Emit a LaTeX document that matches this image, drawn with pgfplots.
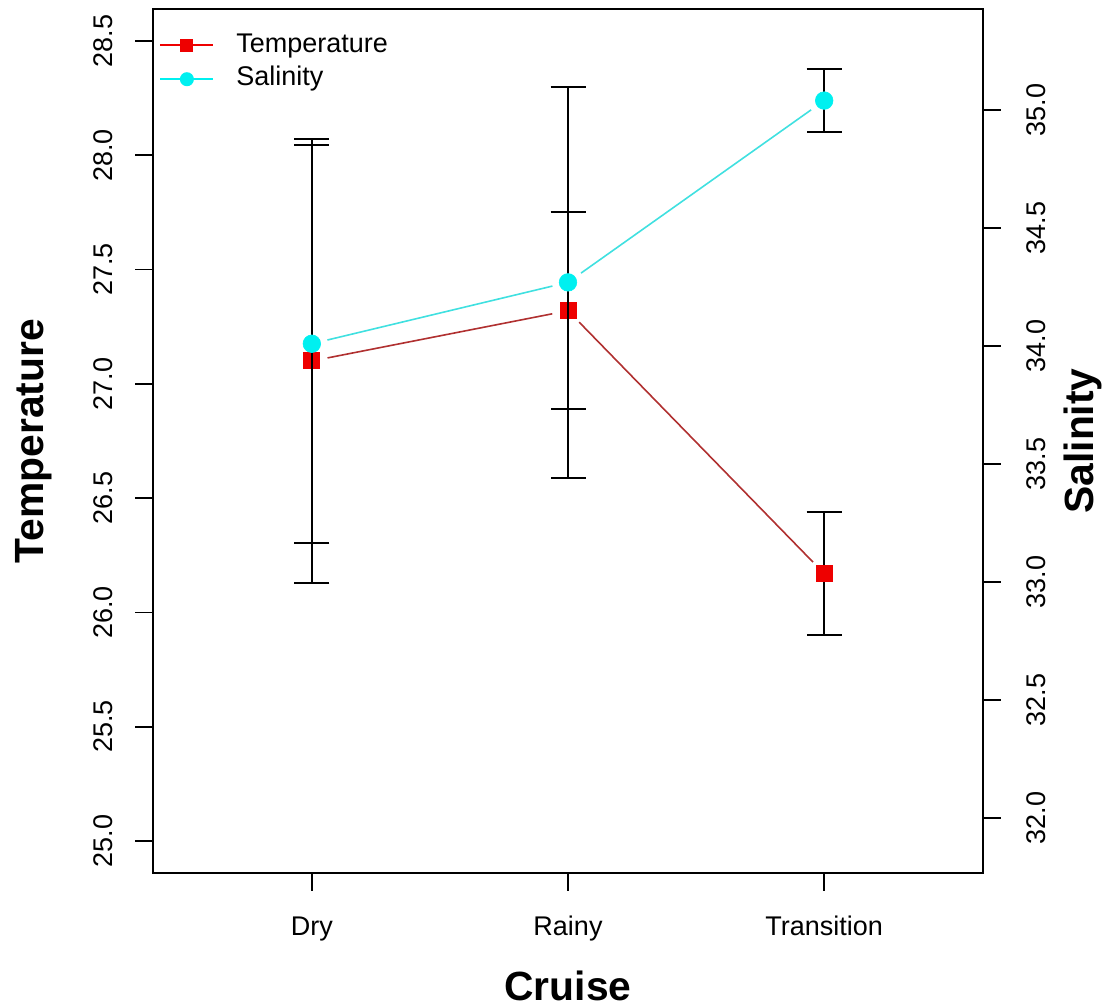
\documentclass[border=0pt]{standalone}
\usepackage{fontspec}
\setmainfont{Liberation Sans}
\usepackage{pgfplots}
\pgfplotsset{compat=1.18}
\definecolor{tline}{RGB}{176,48,48}
\definecolor{tmark}{RGB}{238,0,0}
\definecolor{sline}{RGB}{64,224,224}
\definecolor{smark}{RGB}{0,240,240}
\newcommand{\labfont}{\fontsize{20.4bp}{24bp}\selectfont\bfseries}
\pgfplotsset{
  common/.style={
    at={(0,0)}, anchor=south west,
    scale only axis, width=415bp, height=432bp,
    xmin=0.38, xmax=3.62,
    tick align=outside, major tick length=8.75bp,
    tick style={black, line width=0.9bp},
    axis line style={line width=1bp},
    ticklabel style={font=\fontsize{13.5bp}{16bp}\selectfont},
  },
  ebars/.style={forget plot, draw=none, mark=none,
    error bars/.cd, y dir=both, y explicit,
    error bar style={draw=black, solid, line width=1bp},
    error mark options={draw=black, solid, rotate=90, mark size=8.75bp, line width=1bp}},
}
\begin{document}
\begin{tikzpicture}
\useasboundingbox (-76.5bp,-67.5bp) rectangle (478bp,436.5bp);
% ---------- Temperature (left axis) ----------
\begin{axis}[common,
  ymin=24.86, ymax=28.64,
  xtick={1,2,3}, xticklabels={Dry,Rainy,Transition},
  ytick={25,25.5,26,26.5,27,27.5,28,28.5},
  yticklabels={25.0,25.5,26.0,26.5,27.0,27.5,28.0,28.5},
  xtick pos=bottom, ytick pos=left,
  yticklabel style={inner sep=0pt, xshift=-11.25bp, rotate=90, anchor=base},
  xticklabel style={inner sep=0pt, yshift=-22.25bp, anchor=base},
  xlabel={Cruise}, ylabel={Temperature},
  every axis x label/.style={at={(axis description cs:0.5,-0.14699)}, anchor=base, font=\labfont},
  every axis y label/.style={at={(axis description cs:-0.13133,0.5)}, rotate=90, anchor=base, font=\labfont},
  legend image code/.code={\draw[mark repeat=2,mark phase=2] plot coordinates {(0bp,0bp) (13.25bp,0bp) (26.5bp,0bp)};},
  legend style={at={(axis description cs:0.00723,0.973)}, anchor=north west, draw=none, fill=none,
    inner sep=0pt, row sep=4.2bp,
    font=\fontsize{13.5bp}{16bp}\selectfont,
    nodes={inner sep=0pt, text height=9.7bp, text depth=3bp},
    /tikz/every odd column/.style={column sep=11bp}},
  legend cell align=left,
]
\addlegendimage{draw=tmark, line width=1bp, mark=square*, mark size=2.75bp, mark options={solid, fill=tmark, draw=tmark}}
\addlegendentry{Temperature}
\addlegendimage{draw=smark, line width=1bp, mark=*, mark size=3bp, mark options={solid, fill=smark, draw=smark}}
\addlegendentry{Salinity}
% connecting segments (with gaps, as in R type="b")
\addplot[forget plot, tline, line width=0.8bp, shorten <=8bp, shorten >=8bp] coordinates {(1,27.10) (2,27.32)};
\addplot[forget plot, tline, line width=0.8bp, shorten <=8bp, shorten >=8bp] coordinates {(2,27.32) (3,26.17)};
% points
\addplot[forget plot, only marks, mark=square*, mark size=4bp, mark options={fill=tmark, draw=tmark, line width=0.5bp}] coordinates {(1,27.10) (2,27.32) (3,26.17)};
% error bars
\addplot[ebars] coordinates {(1,27.10) +- (0,0.973) (2,27.32) +- (0,0.431) (3,26.17) +- (0,0.269)};
\end{axis}
% ---------- Salinity (right axis) ----------
\begin{axis}[common,
  ymin=31.768, ymax=35.428,
  axis x line=none, axis y line*=right,
  ytick={32,32.5,33,33.5,34,34.5,35},
  yticklabels={32.0,32.5,33.0,33.5,34.0,34.5,35.0},
  yticklabel style={inner sep=0pt, xshift=22.25bp, rotate=90, anchor=base},
  ylabel={Salinity},
  every axis y label/.style={at={(axis description cs:1.1325,0.5)}, rotate=90, anchor=base, font=\labfont},
]
\addplot[sline, line width=0.8bp, shorten <=8bp, shorten >=8bp] coordinates {(1,34.01) (2,34.27)};
\addplot[sline, line width=0.8bp, shorten <=8bp, shorten >=8bp] coordinates {(2,34.27) (3,35.04)};
\addplot[only marks, mark=*, mark size=4.4bp, mark options={fill=smark, draw=smark, line width=0.3bp}] coordinates {(1,34.01) (2,34.27) (3,35.04)};
\addplot[ebars] coordinates {(1,34.01) +- (0,0.843) (2,34.27) +- (0,0.827) (3,35.04) +- (0,0.134)};
\end{axis}
\end{tikzpicture}
\end{document}
